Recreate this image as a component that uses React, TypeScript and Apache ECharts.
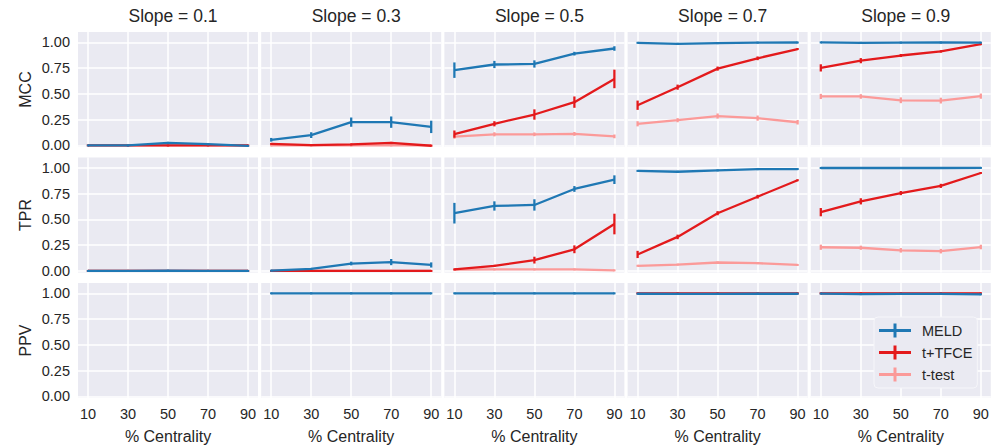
import React, { useEffect, useRef } from 'react';
import * as echarts from 'echarts';

const slopes = ['0.1', '0.3', '0.5', '0.7', '0.9'];
const centrality = [10, 30, 50, 70, 90];
const metrics = ['MCC', 'TPR', 'PPV'];
const methods = ['MELD', 't+TFCE', 't-test'];
const yTicks = [0, 0.25, 0.5, 0.75, 1.0];

// values per slope (rows: slope 0.1 .. 0.9; cols: centrality 10..90)
const mccMeld = [
  [0.0, 0.0, 0.025, 0.012, -0.004],
  [0.055, 0.1, 0.226, 0.226, 0.18],
  [0.73, 0.785, 0.79, 0.89, 0.94],
  [0.995, 0.985, 0.992, 0.997, 0.998],
  [0.999, 0.995, 0.997, 0.998, 0.997],
];
const mccMeldErr = [
  [0.003, 0.003, 0.01, 0.006, 0.003],
  [0.018, 0.028, 0.045, 0.055, 0.06],
  [0.075, 0.035, 0.035, 0.018, 0.022],
  [0.004, 0.004, 0.003, 0.002, 0.002],
  [0.002, 0.003, 0.002, 0.002, 0.002],
];
const mccTfce = [
  [0.001, 0.0, 0.0, 0.001, 0.0],
  [0.015, 0.004, 0.01, 0.025, -0.003],
  [0.11, 0.21, 0.3, 0.42, 0.645],
  [0.39, 0.565, 0.745, 0.845, 0.935],
  [0.752, 0.822, 0.872, 0.912, 0.982],
];
const mccTfceErr = [
  [0.002, 0.002, 0.002, 0.002, 0.002],
  [0.006, 0.003, 0.006, 0.01, 0.003],
  [0.035, 0.025, 0.05, 0.055, 0.09],
  [0.045, 0.025, 0.02, 0.018, 0.01],
  [0.035, 0.025, 0.015, 0.012, 0.008],
];
const mccTtest = [
  [0.0, 0.0, 0.0, 0.0, 0.0],
  [0.0, 0.0, 0.0, 0.0, 0.0],
  [0.085, 0.108, 0.108, 0.112, 0.088],
  [0.21, 0.245, 0.285, 0.265, 0.225],
  [0.475, 0.475, 0.438, 0.435, 0.478],
];
const mccTtestErr = [
  [0.002, 0.002, 0.002, 0.002, 0.002],
  [0.002, 0.002, 0.002, 0.002, 0.002],
  [0.02, 0.02, 0.018, 0.018, 0.018],
  [0.025, 0.02, 0.025, 0.025, 0.022],
  [0.025, 0.022, 0.028, 0.028, 0.025],
];

const tprMeld = [
  [0.0, 0.0, 0.002, 0.001, 0.0],
  [0.003, 0.02, 0.072, 0.086, 0.058],
  [0.56, 0.63, 0.64, 0.795, 0.885],
  [0.97, 0.962, 0.975, 0.987, 0.988],
  [0.998, 0.998, 0.998, 0.998, 0.999],
];
const tprMeldErr = [
  [0.002, 0.002, 0.002, 0.002, 0.002],
  [0.004, 0.006, 0.018, 0.03, 0.025],
  [0.1, 0.045, 0.055, 0.028, 0.042],
  [0.005, 0.004, 0.003, 0.002, 0.002],
  [0.001, 0.001, 0.001, 0.001, 0.001],
];
const tprTfce = [
  [0.0, 0.0, 0.0, 0.0, 0.0],
  [0.0, 0.0, 0.0, 0.0, 0.0],
  [0.015, 0.05, 0.105, 0.21, 0.455],
  [0.16, 0.33, 0.56, 0.72, 0.88],
  [0.57, 0.675, 0.755, 0.825, 0.95],
];
const tprTfceErr = [
  [0.001, 0.001, 0.001, 0.001, 0.001],
  [0.001, 0.001, 0.001, 0.001, 0.001],
  [0.006, 0.01, 0.033, 0.038, 0.1],
  [0.035, 0.022, 0.02, 0.018, 0.01],
  [0.04, 0.03, 0.02, 0.02, 0.008],
];
const tprTtest = [
  [0.0, 0.0, 0.0, 0.0, 0.0],
  [0.0, 0.0, 0.0, 0.0, 0.0],
  [0.012, 0.015, 0.015, 0.015, 0.006],
  [0.05, 0.062, 0.082, 0.075, 0.058],
  [0.23, 0.225, 0.2, 0.192, 0.232],
];
const tprTtestErr = [
  [0.001, 0.001, 0.001, 0.001, 0.001],
  [0.001, 0.001, 0.001, 0.001, 0.001],
  [0.004, 0.004, 0.004, 0.004, 0.003],
  [0.006, 0.006, 0.008, 0.008, 0.006],
  [0.025, 0.02, 0.022, 0.022, 0.022],
];

const ppvMeld = [
  [null, null, null, null, null],
  [1, 1, 1, 1, 1],
  [1, 1, 1, 1, 1],
  [0.996, 0.994, 0.995, 0.996, 0.996],
  [0.997, 0.992, 0.994, 0.995, 0.99],
];
const ppvMeldErr = [
  [0, 0, 0, 0, 0],
  [0, 0, 0, 0, 0],
  [0, 0, 0, 0, 0],
  [0.002, 0.002, 0.002, 0.002, 0.002],
  [0.002, 0.002, 0.002, 0.002, 0.002],
];
const ppvTfce = [
  [null, null, null, null, null],
  [null, null, null, null, null],
  [null, null, null, null, null],
  [1, 1, 1, 1, 1],
  [1, 1, 1, 1, 1],
];
const ppvTfceErr = [
  [0, 0, 0, 0, 0],
  [0, 0, 0, 0, 0],
  [0, 0, 0, 0, 0],
  [0.001, 0.001, 0.001, 0.001, 0.001],
  [0.001, 0.001, 0.001, 0.001, 0.001],
];
const ppvTtest = [
  [null, null, null, null, null],
  [null, null, null, null, null],
  [null, null, null, null, null],
  [1, 1, 1, 1, 1],
  [1, 1, 1, 1, 1],
];
const ppvTtestErr = [
  [0, 0, 0, 0, 0],
  [0, 0, 0, 0, 0],
  [0, 0, 0, 0, 0],
  [0, 0, 0, 0, 0],
  [0, 0, 0, 0, 0],
];

const table = [
  [[mccMeld, mccMeldErr], [mccTfce, mccTfceErr], [mccTtest, mccTtestErr]],
  [[tprMeld, tprMeldErr], [tprTfce, tprTfceErr], [tprTtest, tprTtestErr]],
  [[ppvMeld, ppvMeldErr], [ppvTfce, ppvTfceErr], [ppvTtest, ppvTtestErr]],
];

const COLORS = ['#1F78B4', '#E31A1C', '#FB9A99'];
const TEXT = '#262626';
const FONT = '"Liberation Sans", Arial, sans-serif';
const BG = '#EAEAF2';

const PANEL_LEFT = 78;
const PANEL_PITCH_X = 183.2;
const PANEL_W = 180;
const PANEL_TOP = 32;
const PANEL_PITCH_Y = 125.5;
const PANEL_H = 115;

export default function App() {
  const ref = useRef<HTMLDivElement>(null);
  useEffect(() => {
    const chart = echarts.init(ref.current!, null, { renderer: 'svg' });
    const grids: any[] = [];
    const xAxes: any[] = [];
    const yAxes: any[] = [];
    const series: any[] = [];
    for (let r = 0; r < 3; r++) {
      for (let c = 0; c < 5; c++) {
        const idx = r * 5 + c;
        grids.push({
          left: PANEL_LEFT + c * PANEL_PITCH_X,
          top: PANEL_TOP + r * PANEL_PITCH_Y,
          width: PANEL_W,
          height: PANEL_H,
          show: true,
          backgroundColor: BG,
          borderWidth: 0,
        });
        xAxes.push({
          gridIndex: idx,
          type: 'value',
          min: 5,
          max: 95,
          axisLine: { show: false },
          axisTick: { show: false, customValues: centrality },
          axisLabel: {
            show: r === 2,
            customValues: centrality,
            fontSize: 14.5,
            color: TEXT,
            fontFamily: FONT,
            margin: 8,
          },
          splitLine: { show: true, lineStyle: { color: '#FFFFFF', width: 1.5 } },
          name: r === 2 ? '% Centrality' : '',
          nameLocation: 'middle',
          nameGap: 30,
          nameTextStyle: { fontSize: 16, color: TEXT, fontFamily: FONT },
        });
        yAxes.push({
          gridIndex: idx,
          type: 'value',
          min: -0.015,
          max: 1.1,
          axisLine: { show: false },
          axisTick: { show: false, customValues: yTicks },
          axisLabel: {
            show: c === 0,
            customValues: yTicks,
            formatter: (v: number) => v.toFixed(2),
            fontSize: 14.5,
            color: TEXT,
            fontFamily: FONT,
            margin: 8,
          },
          splitLine: { show: true, lineStyle: { color: '#FFFFFF', width: 1.5 } },
          name: c === 0 ? metrics[r] : '',
          nameLocation: 'middle',
          nameGap: 45,
          nameRotate: 90,
          nameTextStyle: { fontSize: 16, color: TEXT, fontFamily: FONT },
        });
        for (let m = 0; m < 3; m++) {
          const vals = table[r][m][0][c] as (number | null)[];
          const errs = table[r][m][1][c] as number[];
          const color = COLORS[m];
          const z = 5 - m;
          series.push({
            type: 'line',
            name: methods[m],
            xAxisIndex: idx,
            yAxisIndex: idx,
            data: centrality.map((x, i) => [x, vals[i]]),
            symbol: 'none',
            showSymbol: false,
            connectNulls: false,
            lineStyle: { color, width: 2.3 },
            itemStyle: { color },
            z,
          });
          const errData: number[][] = [];
          centrality.forEach((x, i) => {
            const v = vals[i];
            if (v !== null && v !== undefined) errData.push([x, v - errs[i], v + errs[i]]);
          });
          series.push({
            type: 'custom',
            name: methods[m],
            xAxisIndex: idx,
            yAxisIndex: idx,
            data: errData,
            z,
            renderItem: (params: any, api: any) => {
              const p1 = api.coord([api.value(0), api.value(1)]);
              const p2 = api.coord([api.value(0), api.value(2)]);
              let y1 = p1[1];
              let y2 = p2[1];
              if (Math.abs(y1 - y2) < 2) {
                const mid = (y1 + y2) / 2;
                y1 = mid + 1;
                y2 = mid - 1;
              }
              return {
                type: 'line',
                shape: { x1: p1[0], y1, x2: p2[0], y2 },
                style: { stroke: color, lineWidth: 2.3 },
              };
            },
          });
        }
      }
    }

    const titles = slopes.map((s, c) => ({
      text: `Slope = ${s}`,
      left: PANEL_LEFT + c * PANEL_PITCH_X + PANEL_W / 2,
      top: 2,
      textAlign: 'center',
      padding: [5, 5],
      textStyle: { fontSize: 17.5, fontWeight: 'normal', color: TEXT, fontFamily: FONT },
    }));

    const legendIcon = 'path://M0,5.5H32V8.5H0Z M14.5,0H17.5V14H14.5Z';

    chart.setOption({
      animation: false,
      backgroundColor: '#FFFFFF',
      title: titles,
      grid: grids,
      xAxis: xAxes,
      yAxis: yAxes,
      legend: {
        orient: 'vertical',
        left: 874,
        top: 317,
        padding: [6, 5, 6, 5],
        itemWidth: 32,
        itemHeight: 14,
        itemGap: 7,
        backgroundColor: BG,
        borderColor: '#F6F6FA',
        borderWidth: 1,
        borderRadius: 4,
        textStyle: { fontSize: 14.5, color: TEXT, fontFamily: FONT, padding: [0, 0, 0, 6] },
        data: methods.map((m, i) => ({
          name: m,
          icon: legendIcon,
          itemStyle: { color: COLORS[i], borderWidth: 0 },
        })),
      },
      series,
    });
    return () => chart.dispose();
  }, []);
  return (
    <div
      ref={ref}
      style={{ position: 'absolute', left: 0, top: 0, width: 1000, height: 448 }}
    />
  );
}
